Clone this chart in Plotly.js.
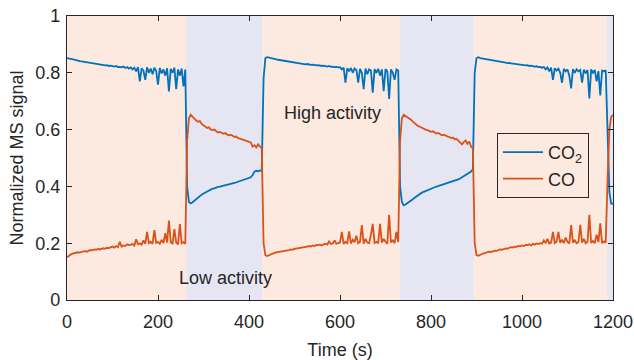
<!DOCTYPE html>
<html>
<head>
<meta charset="utf-8">
<script src="https://cdn.plot.ly/plotly-3.0.1.min.js"></script>
<style>html,body{margin:0;padding:0;background:#fff;}#chart{width:634px;height:360px;}</style>
</head>
<body>
<div id="chart"></div>
<script>
// Sampling: one value every 4 s starting at t = 0 s (0 ... 1200 s)
const tStart = 0;
const tStep = 4;

// Normalized MS signal, CO2 (one row = 40 s)
const co2 = [
  .852,.850,.849,.847,.846,.845,.842,.841,.840,.839,
  .837,.836,.834,.834,.832,.833,.830,.829,.830,.828,
  .827,.826,.827,.824,.825,.823,.822,.824,.820,.821,
  .819,.822,.817,.820,.815,.819,.812,.818,.805,.820,
  .770,.816,.808,.775,.819,.800,.815,.795,.818,.806,
  .758,.817,.798,.812,.790,.816,.734,.814,.800,.818,
  .742,.812,.790,.815,.752,.812,.400,.345,.340,.344,
  .350,.356,.362,.367,.371,.375,.379,.383,.386,.389,
  .392,.393,.396,.398,.399,.401,.403,.405,.406,.408,
  .409,.411,.412,.414,.416,.418,.420,.422,.425,.428,
  .430,.432,.440,.452,.455,.453,.456,.454,.780,.852,
  .855,.853,.851,.850,.848,.847,.846,.845,.843,.842,
  .841,.840,.838,.839,.836,.836,.834,.835,.833,.832,
  .832,.830,.831,.829,.828,.829,.827,.826,.827,.825,
  .824,.825,.823,.822,.824,.821,.822,.820,.821,.819,
  .820,.812,.818,.765,.816,.805,.817,.800,.815,.810,
  .765,.814,.800,.742,.815,.795,.812,.808,.730,.813,
  .800,.814,.790,.812,.735,.813,.805,.708,.812,.800,
  .775,.812,.808,.400,.345,.333,.336,.340,.345,.350,
  .355,.360,.365,.370,.374,.378,.381,.384,.387,.390,
  .392,.395,.397,.399,.401,.404,.406,.408,.410,.412,
  .414,.416,.418,.420,.423,.425,.428,.432,.436,.440,
  .442,.445,.452,.460,.800,.852,.855,.852,.851,.850,
  .849,.848,.846,.845,.844,.843,.841,.840,.839,.838,
  .837,.836,.834,.835,.833,.832,.831,.832,.829,.828,
  .828,.827,.826,.827,.824,.825,.823,.822,.823,.820,
  .821,.818,.820,.812,.819,.805,.818,.775,.816,.808,
  .815,.800,.765,.814,.805,.812,.790,.745,.813,.800,
  .812,.805,.810,.765,.811,.798,.810,.710,.812,.800,
  .810,.770,.806,.720,.808,.805,.809,.560,.380,.340,
  .338
];

// Normalized MS signal, CO (one row = 40 s)
const co = [
  .150,.156,.160,.163,.165,.166,.168,.167,.170,.171,
  .172,.170,.174,.176,.175,.178,.177,.180,.178,.181,
  .182,.180,.184,.183,.186,.188,.184,.190,.186,.205,
  .188,.192,.190,.196,.193,.194,.198,.192,.214,.196,
  .199,.195,.210,.198,.240,.200,.205,.198,.246,.201,
  .204,.198,.212,.200,.235,.202,.280,.203,.199,.250,
  .202,.196,.267,.200,.204,.198,.560,.640,.652,.645,
  .640,.632,.628,.630,.620,.615,.612,.606,.608,.600,
  .598,.600,.594,.590,.592,.588,.585,.588,.582,.580,
  .582,.578,.574,.576,.570,.568,.566,.565,.563,.560,
  .558,.555,.540,.545,.537,.548,.540,.535,.200,.158,
  .155,.158,.162,.164,.166,.168,.169,.170,.172,.171,
  .174,.175,.176,.178,.177,.180,.181,.182,.184,.183,
  .186,.185,.188,.190,.188,.192,.190,.194,.193,.195,
  .192,.196,.198,.195,.206,.197,.199,.210,.198,.200,
  .202,.240,.198,.205,.200,.242,.199,.212,.203,.226,
  .200,.205,.264,.198,.215,.202,.200,.230,.268,.201,
  .205,.200,.268,.202,.215,.205,.198,.300,.203,.210,
  .200,.240,.204,.560,.640,.652,.648,.642,.640,.635,
  .628,.622,.618,.612,.610,.606,.604,.600,.598,.595,
  .592,.594,.590,.586,.588,.584,.580,.582,.578,.576,
  .574,.570,.572,.566,.568,.560,.552,.548,.556,.562,
  .550,.558,.540,.535,.200,.158,.156,.160,.162,.164,
  .166,.168,.170,.169,.172,.174,.173,.176,.178,.177,
  .180,.182,.181,.184,.186,.185,.188,.187,.190,.189,
  .192,.190,.194,.193,.196,.192,.198,.195,.199,.197,
  .200,.198,.210,.200,.215,.199,.202,.240,.200,.205,
  .240,.201,.212,.200,.220,.204,.199,.264,.202,.210,
  .200,.204,.265,.202,.215,.200,.205,.300,.201,.208,
  .200,.230,.204,.270,.200,.206,.202,.420,.600,.645,
  .652
];

// Activity phases (start, end in s)
const phaseStart = [0, 262, 430, 731, 894, 1187];
const phaseEnd   = [262, 430, 731, 894, 1187, 1200];
const phaseKind  = ["high", "low", "high", "low", "high", "low"];

// Labels
const seriesNames = ["CO<sub>2</sub>", "CO"];
const labelText = ["High activity", "Low activity"];
const labelX = [583, 348];
const labelY = [0.658, 0.077];

const txtColor = "#262626";
const FONT = "Liberation Sans, Arial, Helvetica, sans-serif";
const FS = 18;
const phaseColor = {high: "#FCE9DF", low: "#E6E6F2"};

const shapes = phaseStart.map((s, i) => ({
  type: "rect", xref: "x", yref: "paper",
  x0: s, x1: phaseEnd[i], y0: 0, y1: 1,
  fillcolor: phaseColor[phaseKind[i]], line: {width: 0}, layer: "below"
}));

const traces = [
  {y: co2, x0: tStart, dx: tStep, type: "scatter", mode: "lines", name: seriesNames[0],
   line: {color: "#0072BD", width: 1.8}},
  {y: co, x0: tStart, dx: tStep, type: "scatter", mode: "lines", name: seriesNames[1],
   line: {color: "#D95319", width: 1.8}}
];

const axisCommon = {
  showline: true, linecolor: txtColor, linewidth: 1.2, mirror: "ticks",
  ticks: "inside", ticklen: 5, tickcolor: txtColor, tickwidth: 1,
  showgrid: false, zeroline: false,
  tickfont: {family: FONT, size: FS, color: txtColor}
};

const layout = {
  width: 634, height: 360,
  margin: {l: 67, r: 21, t: 16, b: 60},
  paper_bgcolor: "#ffffff", plot_bgcolor: "#ffffff",
  font: {family: FONT, size: FS, color: txtColor},
  showlegend: true,
  legend: {x: 0.7875, y: 0.588, xanchor: "left", yanchor: "top",
    bgcolor: "rgba(0,0,0,0)", bordercolor: txtColor, borderwidth: 1,
    itemwidth: 40, tracegroupgap: 0,
    font: {family: FONT, size: FS, color: txtColor}},
  xaxis: Object.assign({}, axisCommon, {
    range: [0, 1200], tickvals: [0, 200, 400, 600, 800, 1000, 1200],
    ticklabelstandoff: 5,
    title: {text: "Time (s)", font: {family: FONT, size: FS, color: txtColor}, standoff: 12}
  }),
  yaxis: Object.assign({}, axisCommon, {
    range: [0, 1], tickvals: [0, 0.2, 0.4, 0.6, 0.8, 1],
    ticklabelstandoff: 2,
    title: {text: "Normalized MS signal", font: {family: FONT, size: FS, color: txtColor}, standoff: 6}
  }),
  shapes: shapes,
  annotations: labelText.map((t, i) => ({
    x: labelX[i], y: labelY[i], xref: "x", yref: "y", text: t, showarrow: false,
    font: {family: FONT, size: FS, color: txtColor}
  }))
};

Plotly.newPlot("chart", traces, layout, {displayModeBar: false, staticPlot: true});
</script>
</body>
</html>
